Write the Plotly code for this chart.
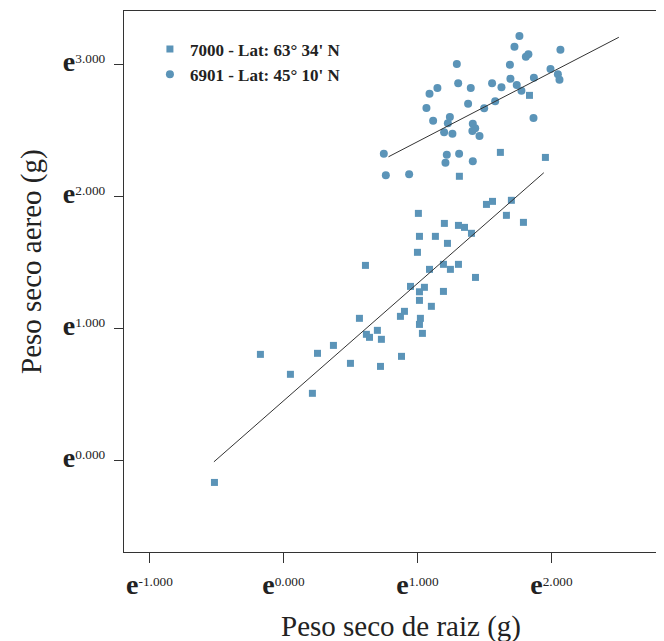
import plotly.graph_objects as go

# ---- data (log-scale values, ln(g)) ----
sq_x = [-0.515, -0.172, 0.052, 0.216, 0.254, 0.373, 0.500, 0.567, 0.619, 0.642,
        0.701, 0.731, 0.724, 0.873, 0.903, 0.881,
        1.007, 1.015, 1.000, 1.134, 1.201, 1.224, 1.306, 1.351, 1.403,
        1.090, 1.194, 1.246, 1.306, 1.433,
        0.948, 1.015, 1.052, 1.194, 1.015, 1.104, 1.022, 1.015, 1.037,
        1.515, 1.560, 1.701, 1.664, 1.791,
        1.313, 1.619, 1.955, 0.612, 1.836]
sq_y = [-0.164, 0.806, 0.655, 0.511, 0.814, 0.874, 0.738, 1.079, 0.958, 0.935,
        0.988, 0.920, 0.715, 1.094, 1.132, 0.791,
        1.874, 1.700, 1.579, 1.700, 1.798, 1.647, 1.783, 1.768, 1.723,
        1.450, 1.488, 1.450, 1.488, 1.389,
        1.321, 1.280, 1.314, 1.283, 1.215, 1.170, 1.079, 1.033, 0.965,
        1.942, 1.965, 1.973, 1.859, 1.806,
        2.155, 2.336, 2.298, 1.480, 2.768]

ci_x = [1.761, 1.724, 2.067, 1.828, 1.809, 1.294, 1.690, 1.993, 2.048, 2.060,
        1.304, 1.557, 1.694, 1.869, 1.149, 1.398, 1.627, 1.741, 1.776, 1.090,
        1.378, 1.580, 1.067, 1.498, 1.866, 1.117, 1.242, 1.227, 1.199, 1.261,
        1.413, 1.431, 1.410, 1.463, 0.749, 1.219, 1.311, 1.209, 1.413, 0.764,
        0.938]
ci_y = [3.217, 3.136, 3.114, 3.079, 3.061, 3.005, 3.000, 2.967, 2.927, 2.886,
        2.859, 2.859, 2.894, 2.902, 2.823, 2.823, 2.829, 2.846, 2.803, 2.780,
        2.705, 2.723, 2.672, 2.670, 2.596, 2.576, 2.604, 2.556, 2.488, 2.477,
        2.553, 2.518, 2.498, 2.460, 2.326, 2.318, 2.326, 2.258, 2.268, 2.162,
        2.170]

# regression line endpoints
fit_sq_x = [-0.519, 1.943]
fit_sq_y = [-0.008, 2.182]
fit_ci_x = [0.784, 2.503]
fit_ci_y = [2.303, 3.208]

tick_vals_x = [-1, 0, 1, 2]
tick_exp_x = ["-1.000", "0.000", "1.000", "2.000"]
tick_vals_y = [0, 1, 2, 3]
tick_exp_y = ["0.000", "1.000", "2.000", "3.000"]

names = ["7000 - Lat: 63° 34' N", "6901 - Lat: 45° 10' N"]


def etick(exp):
    return "<span style='font-size:28px'><b>e</b></span><sup>" + exp + "</sup>"


COLOR = "#5b94b8"
FONT = "Liberation Serif"
INK = "#222222"

fig = go.Figure()
fig.add_trace(go.Scatter(x=sq_x, y=sq_y, mode="markers", name=names[0],
                         marker=dict(symbol="square", size=7, color=COLOR)))
fig.add_trace(go.Scatter(x=ci_x, y=ci_y, mode="markers", name=names[1],
                         marker=dict(symbol="circle", size=8, color=COLOR)))
fig.add_trace(go.Scatter(x=fit_sq_x, y=fit_sq_y, mode="lines", showlegend=False,
                         line=dict(color="#333333", width=1)))
fig.add_trace(go.Scatter(x=fit_ci_x, y=fit_ci_y, mode="lines", showlegend=False,
                         line=dict(color="#333333", width=1)))

fig.update_layout(
    width=656, height=633,
    margin=dict(l=116, r=0, t=3, b=89),
    paper_bgcolor="white", plot_bgcolor="white",
    font=dict(family=FONT, color=INK),
    showlegend=True,
    legend=dict(x=0.048, y=0.962, xanchor="left", yanchor="top",
                bgcolor="rgba(0,0,0,0)",
                font=dict(size=17, family=FONT, color=INK, weight="bold"),
                itemwidth=30, tracegroupgap=0),
    xaxis=dict(range=[-1.19, 2.84], showgrid=False, zeroline=False,
               showline=True, mirror=True, linecolor="#333333", linewidth=1,
               ticks="outside", ticklen=10, tickcolor="#333333",
               tickvals=tick_vals_x, ticktext=[etick(e) for e in tick_exp_x],
               ticklabelstandoff=8,
               tickfont=dict(size=19, family=FONT, color=INK)),
    yaxis=dict(range=[-0.691, 3.407], showgrid=False, zeroline=False,
               showline=True, linecolor="#333333", linewidth=1,
               ticks="outside", ticklen=9, tickcolor="#333333",
               tickvals=tick_vals_y, ticktext=[etick(e) for e in tick_exp_y],
               ticklabelstandoff=5,
               tickfont=dict(size=19, family=FONT, color=INK)),
    annotations=[
        dict(text="Peso seco de raiz (g)", xref="paper", yref="paper",
             x=(401 - 124) / 540, y=(552 - 626) / 541, xanchor="center", yanchor="middle",
             showarrow=False, font=dict(size=29, family=FONT, color=INK)),
        dict(text="Peso seco aereo (g)", xref="paper", yref="paper",
             x=(31 - 124) / 540, y=(552 - 262) / 541, xanchor="center", yanchor="middle",
             textangle=-90, showarrow=False, font=dict(size=29, family=FONT, color=INK)),
    ],
)

fig.write_html("out.html")
